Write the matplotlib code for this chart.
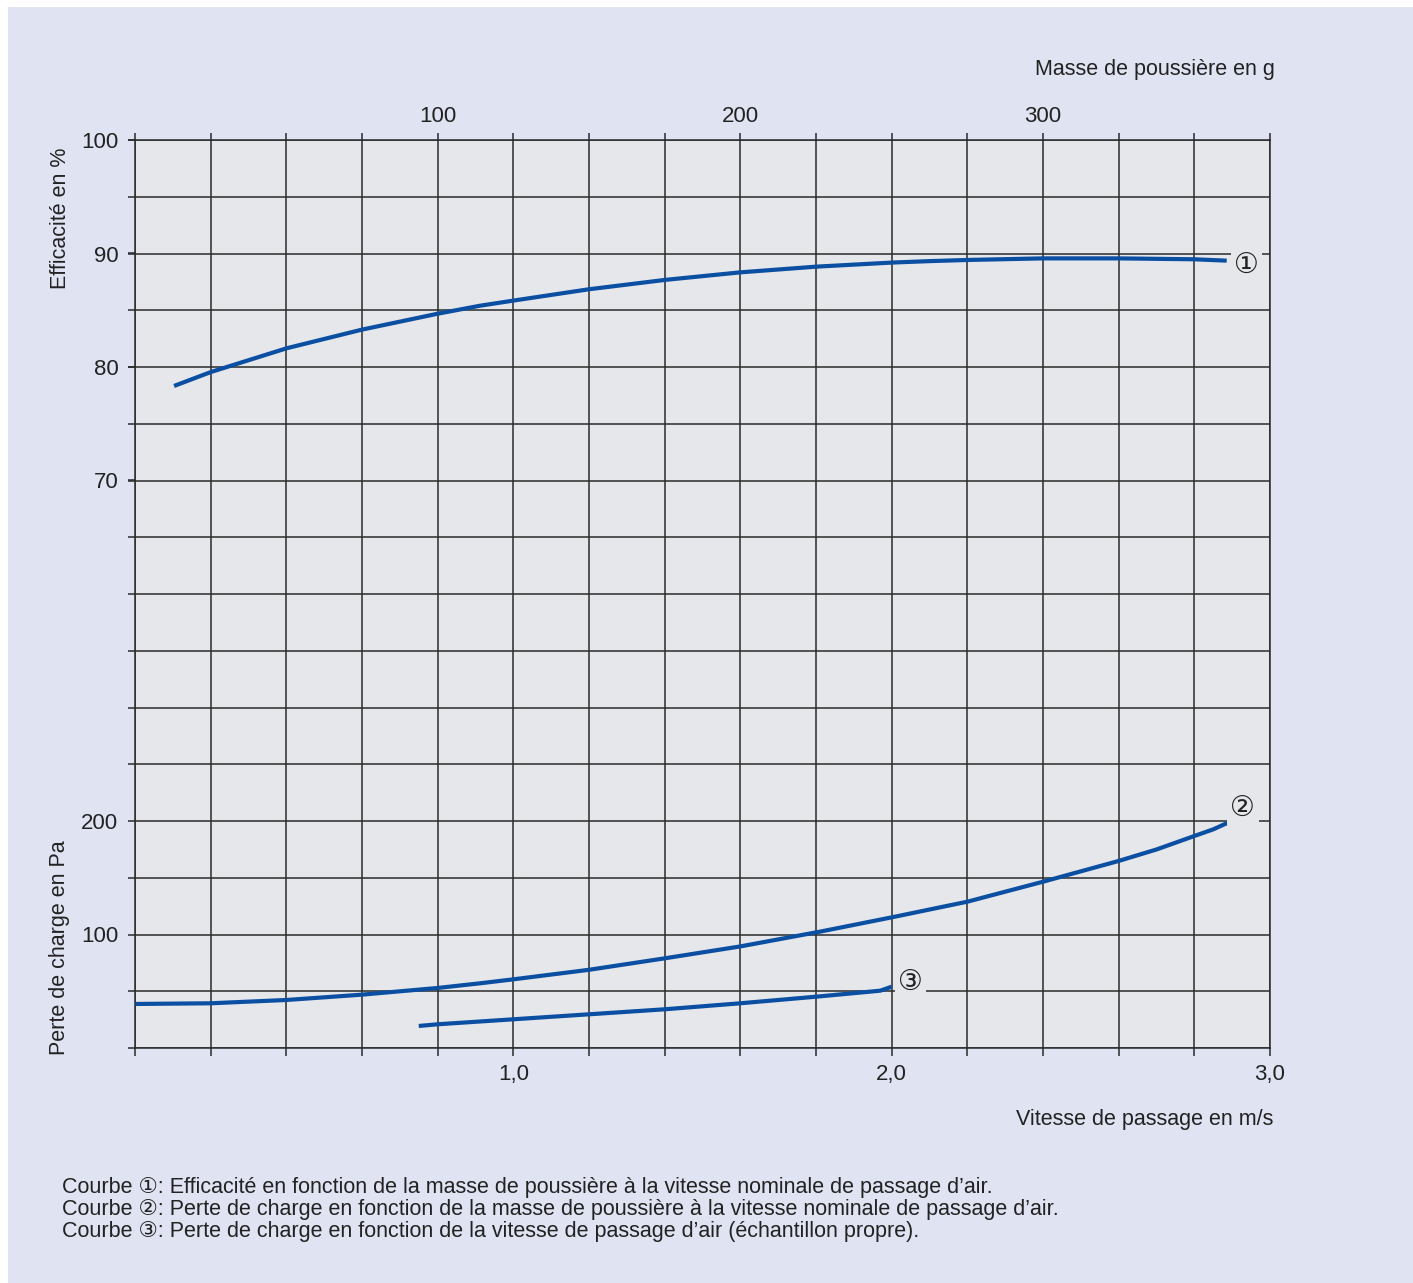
import matplotlib
matplotlib.use("Agg")
import matplotlib.pyplot as plt
from matplotlib.patches import Rectangle
import numpy as np

# ---------------- data ----------------
# Curve 1: efficiency (%) vs dust mass (g)
mass_c1 = [12.9, 25.1, 50.1, 75.1, 100.1, 114, 125, 150, 175, 200, 225, 250, 262.7, 275, 300, 325, 350, 360.7]
eff_c1 = [78.33, 79.56, 81.65, 83.3, 84.7, 85.4, 85.85, 86.85, 87.67, 88.34, 88.84, 89.2, 89.33, 89.43, 89.57, 89.57, 89.49, 89.37]

# Curve 2: pressure drop (Pa) vs dust mass (g)
mass_c2 = [0.2, 25, 50, 75, 100, 114, 125, 150, 175, 200, 226.3, 250, 275, 300, 325, 337.6, 350, 356.3, 361.8]
pa_c2 = [38.8, 39.4, 42.3, 47.0, 52.9, 57.0, 60.5, 68.9, 79.0, 89.5, 102.5, 115.1, 128.9, 146.5, 164.8, 175.0, 186.8, 192.7, 199.4]

# Curve 3: pressure drop (Pa) vs air velocity (m/s)
vel_c3 = [0.75, 0.80, 1.0, 1.2, 1.4, 1.6, 1.8, 1.97, 2.0]
pa_c3 = [19.4, 20.9, 25.3, 29.7, 34.1, 39.4, 45.2, 50.5, 54.0]

eff_ticks = [70, 80, 90, 100]
pa_ticks = [100, 200]
vel_ticks = [1.0, 2.0, 3.0]
vel_labels = ["1,0", "2,0", "3,0"]
mass_ticks = [100, 200, 300]

labels = ["①", "②", "③"]
footnotes = [
    "Courbe ①: Efficacité en fonction de la masse de poussière à la vitesse nominale de passage d’air.",
    "Courbe ②: Perte de charge en fonction de la masse de poussière à la vitesse nominale de passage d’air.",
    "Courbe ③: Perte de charge en fonction de la vitesse de passage d’air (échantillon propre).",
]

# ---------------- style ----------------
W, H = 1413, 1283
DPI = 100
OUTER = "#e0e4f2"
PLOT = "#e6e7ea"
GRID = "#2a2a2a"
CURVE = "#0b4fa3"
TXT = "#222222"
FAM = ["Liberation Sans", "DejaVu Sans"]
FS = 16
FS_T = 15.5

plt.rcParams["font.family"] = FAM

fig = plt.figure(figsize=(W / DPI, H / DPI), dpi=DPI, facecolor="white")
bg = Rectangle((8 / W, 0), 1 - 8 / W, 1 - 7 / H, transform=fig.transFigure,
               facecolor=OUTER, edgecolor="none", zorder=-10)
fig.add_artist(bg)

L, R, T, B = 135, 1270, 140, 1048
ax = fig.add_axes([L / W, 1 - B / H, (R - L) / W, (B - T) / H])
ax.set_zorder(1)
ax.set_facecolor(PLOT)
ax.set_xlim(0, 3.0)
ax.set_ylim(0, 800)

# grid via major ticks
xt = np.arange(0, 3.0001, 0.2)
yt = np.arange(0, 800.1, 50)
ax.set_xticks(xt)
ax.set_yticks(yt)
ax.set_xticklabels([vel_labels[vel_ticks.index(round(v, 1))] if (round(v, 1) in vel_ticks) else ""
                    for v in xt])
ax.set_yticklabels([str(int(round(p))) if int(round(p)) in pa_ticks else "" for p in yt])
ax.grid(True, color=GRID, linewidth=1.1)
ax.set_axisbelow(True)
ax.tick_params(axis="x", direction="out", length=6, width=1.1, color=GRID, pad=5.5,
               labelsize=FS, labelcolor=TXT)
ax.tick_params(axis="y", direction="out", length=5, width=1.1, color=GRID, pad=7,
               labelsize=FS, labelcolor=TXT)
for s in ax.spines.values():
    s.set_color(GRID)
    s.set_linewidth(1.1)

# mass axis on top (shares Pa y-axis)
axm = ax.twiny()
axm.set_xlim(0, 375)
mt = np.arange(0, 375.1, 25)
axm.set_xticks(mt)
axm.set_xticklabels([str(int(m)) if int(m) in mass_ticks else "" for m in mt])
axm.tick_params(axis="x", direction="out", length=5, width=1.1, color=GRID, pad=4,
                labelsize=FS, labelcolor=TXT)
for s in axm.spines.values():
    s.set_visible(False)

# efficiency axis (shares mass x-axis)
axe = axm.twinx()
axe.set_ylim(20, 100)
axe.yaxis.tick_left()
axe.set_yticks(eff_ticks)
axe.set_yticklabels([str(e) for e in eff_ticks])
axe.tick_params(axis="y", direction="out", length=5, width=1.1, color=GRID, pad=7,
                labelsize=FS, labelcolor=TXT)
for s in axe.spines.values():
    s.set_visible(False)

lw = 3.0
kw = dict(color=CURVE, lw=lw, solid_capstyle="butt", solid_joinstyle="round", zorder=5)
axe.plot(mass_c1, eff_c1, **kw)
axm.plot(mass_c2, pa_c2, **kw)
ax.plot(vel_c3, pa_c3, **kw)

FS_C = 20
bbox = dict(boxstyle="square,pad=0.12", facecolor=PLOT, edgecolor="none")
axe.text(367.2, 88.95, labels[0], fontsize=FS_C, color=TXT, ha="center", va="center",
         family=FAM, bbox=bbox, zorder=6)
axm.text(366.0, 211, labels[1], fontsize=FS_C, color=TXT, ha="center", va="center",
         family=FAM, bbox=bbox, zorder=6)
ax.text(2.05, 57, labels[2], fontsize=FS_C, color=TXT, ha="center", va="center",
        family=FAM, bbox=bbox, zorder=6)

# axis titles
fig.text(60 / W, 1 - 218 / H, "Efficacité en %", rotation=90, ha="center", va="center",
         fontsize=FS_T, color=TXT)
fig.text(60 / W, 1 - 948 / H, "Perte de charge en Pa", rotation=90, ha="center", va="center",
         fontsize=FS_T, color=TXT)
fig.text(1275 / W, 1 - 69 / H, "Masse de poussière en g", ha="right", va="center",
         fontsize=FS_T, color=TXT)
fig.text(1273 / W, 1 - 1119 / H, "Vitesse de passage en m/s", ha="right", va="center",
         fontsize=FS_T, color=TXT)

# footnotes
for i, line in enumerate(footnotes):
    fig.text(62 / W, 1 - (1188 + 22 * i) / H, line, ha="left", va="center",
             fontsize=15.5, color=TXT, family=FAM)

fig.savefig("out.png", dpi=DPI, facecolor="white")
